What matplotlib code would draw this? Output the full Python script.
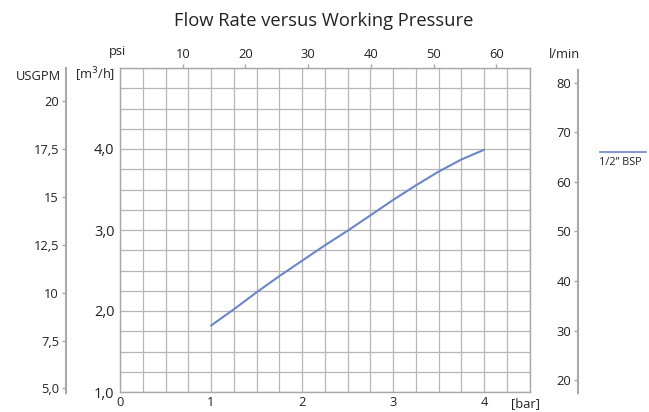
import matplotlib
matplotlib.use("Agg")
import matplotlib.pyplot as plt
import numpy as np

# Flow curve: working pressure [bar] vs flow rate [m³/h]
pressure_bar = [1.0, 1.25, 1.5, 1.75, 2.0, 2.25, 2.5, 2.75, 3.0, 3.25, 3.5, 3.75, 4.0]
flow_m3h = [1.82, 2.02, 2.23, 2.43, 2.62, 2.81, 2.99, 3.18, 3.37, 3.55, 3.72, 3.87, 3.99]
series_label = "1/2\u201d BSP"

bar_ticks = [0, 1, 2, 3, 4]
m3h_ticks = [1.0, 2.0, 3.0, 4.0]
m3h_tick_labels = ["1,0", "2,0", "3,0", "4,0"]
psi_ticks = [10, 20, 30, 40, 50, 60]
usgpm_ticks = [5.0, 7.5, 10, 12.5, 15, 17.5, 20]
usgpm_tick_labels = ["5,0", "7,5", "10", "12,5", "15", "17,5", "20"]
lmin_ticks = [20, 30, 40, 50, 60, 70, 80]

plt.rcParams["font.family"] = ["Open Sans", "DejaVu Sans"]
TXT = "#222222"
GRID = "#b6b6b6"
SPINE = "#a8a8a8"
LINE = "#6a86c8"
FS = 9.3

W, H = 649, 412
fig = plt.figure(figsize=(W / 100, H / 100), dpi=100)


def fx(px):
    return px / W


def fy(py):
    return 1 - py / H


# main plotting area
x0, x1, ytop, ybot = 120, 529.5, 68, 392
ax = fig.add_axes([fx(x0), fy(ybot), fx(x1) - fx(x0), fy(ytop) - fy(ybot)])
ax.set_xlim(0, 4.5)
ax.set_ylim(1.0, 5.0)
ax.set_xticks(bar_ticks)
ax.set_yticks(m3h_ticks)
ax.set_yticklabels(m3h_tick_labels)
ax.set_xticks(np.arange(0, 4.5001, 0.25), minor=True)
ax.set_yticks(np.arange(1.0, 5.0001, 0.25), minor=True)
ax.grid(which="both", color=GRID, lw=0.9)
ax.set_axisbelow(True)
ax.tick_params(axis="both", which="both", length=0, labelsize=FS, labelcolor=TXT)
ax.tick_params(axis="y", labelsize=10.5, pad=4)
ax.tick_params(axis="x", pad=3)
for s in ax.spines.values():
    s.set_color(SPINE)
    s.set_linewidth(1.0)

ax.plot(pressure_bar, flow_m3h, color=LINE, lw=1.5, solid_capstyle="round")

# psi scale on top
BAR_TO_PSI = 14.5038
top = ax.secondary_xaxis("top", functions=(lambda b: b * BAR_TO_PSI, lambda p: p / BAR_TO_PSI))
top.set_xticks(psi_ticks)
top.tick_params(length=3, width=1, color=SPINE, labelsize=FS, labelcolor=TXT, pad=2)
top.spines["top"].set_visible(False)

# USGPM scale on the far left
ax_us = fig.add_axes([fx(66), fy(393), 0.001, fy(68) - fy(393)])
ax_us.set_ylim(4.76, 21.75)
ax_us.set_xticks([])
for k in ["top", "right", "bottom"]:
    ax_us.spines[k].set_visible(False)
ax_us.spines["left"].set_color(SPINE)
ax_us.spines["left"].set_linewidth(1.5)
ax_us.patch.set_visible(False)
ax_us.set_yticks(usgpm_ticks)
ax_us.set_yticklabels(usgpm_tick_labels)
ax_us.tick_params(axis="y", length=3, width=1, color=SPINE, labelsize=FS, labelcolor=TXT, pad=2)

# l/min scale on the right
ax_l = fig.add_axes([fx(578), fy(393), 0.001, fy(70) - fy(393)])
ax_l.set_ylim(17.4, 82.6)
ax_l.set_xticks([])
for k in ["top", "right", "bottom"]:
    ax_l.spines[k].set_visible(False)
ax_l.spines["left"].set_color(SPINE)
ax_l.spines["left"].set_linewidth(1.5)
ax_l.patch.set_visible(False)
ax_l.set_yticks(lmin_ticks)
ax_l.tick_params(axis="y", length=3, width=1, color=SPINE, labelsize=FS, labelcolor=TXT, pad=2)

# unit labels
fig.text(fx(324), fy(21), "Flow Rate versus Working Pressure", ha="center", va="center",
         fontsize=13.2, color=TXT)
fig.text(fx(117), fy(52), "psi", ha="center", va="center", fontsize=FS, color=TXT)
fig.text(fx(115), fy(75), "[m$^3$/h]", ha="right", va="center", fontsize=FS, color=TXT)
fig.text(fx(61), fy(77), "USGPM", ha="right", va="center", fontsize=FS, color=TXT)
fig.text(fx(564), fy(55), "l/min", ha="center", va="center", fontsize=FS, color=TXT)
fig.text(fx(511), fy(404), "[bar]", ha="left", va="center", fontsize=FS, color=TXT)

# legend
fig.add_artist(plt.Line2D([fx(600), fx(646)], [fy(152), fy(152)], color=LINE, lw=1.2))
fig.text(fx(599), fy(162), series_label, ha="left", va="center", fontsize=7.8, color=TXT)

fig.savefig("out.png", dpi=100)
